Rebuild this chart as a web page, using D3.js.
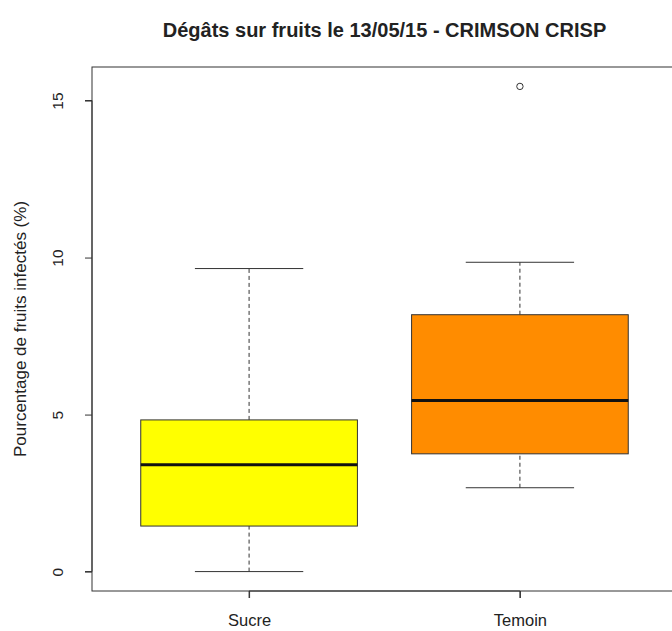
<!DOCTYPE html>
<html>
<head>
<meta charset="utf-8">
<script src="https://cdn.jsdelivr.net/npm/d3@7"></script>
<style>
  body { margin: 0; background: #fff; }
  text { font-family: "Liberation Sans", Arial, sans-serif; fill: #222; }
</style>
</head>
<body>
<svg id="chart" width="672" height="631"></svg>
<script>
// Box statistics
const categories = ['Sucre', 'Temoin'];
const lowerWhisker = [0, 2.67];
const q1 = [1.45, 3.75];
const median = [3.4, 5.45];
const q3 = [4.83, 8.18];
const upperWhisker = [9.65, 9.85];
const outliers = [[], [15.45]];
const fills = ['#ffff00', '#ff8c00'];
const yTicks = [0, 5, 10, 15];

const title = 'Dégâts sur fruits le 13/05/15 - CRIMSON CRISP';
const yLabel = 'Pourcentage de fruits infectés (%)';

const margin = { top: 67, right: -5, bottom: 40, left: 92 };
const width = 672, height = 631;
const innerW = width - margin.left - margin.right;
const innerH = height - margin.top - margin.bottom;

const svg = d3.select('#chart');
const g = svg.append('g').attr('transform', `translate(${margin.left},${margin.top})`);

// R style axis ranges: 4% padding
const x = d3.scaleLinear().domain([0.42, 2.58]).range([0, innerW]);
const yMax = d3.max(outliers.flat().concat(upperWhisker));
const pad = yMax * 0.04;
const y = d3.scaleLinear().domain([-pad, yMax + pad]).range([innerH, 0]);

const boxW = 0.8;

const boxes = categories.map((c, i) => ({
  c, i: i + 1,
  lo: lowerWhisker[i], q1: q1[i], med: median[i], q3: q3[i], hi: upperWhisker[i],
  out: outliers[i], fill: fills[i]
}));

const bg = g.selectAll('g.box').data(boxes).join('g').attr('class', 'box');

// whiskers (dashed)
bg.append('line')
  .attr('x1', d => x(d.i)).attr('x2', d => x(d.i))
  .attr('y1', d => y(d.lo)).attr('y2', d => y(d.q1))
  .attr('stroke', '#333').attr('stroke-dasharray', '4,3');
bg.append('line')
  .attr('x1', d => x(d.i)).attr('x2', d => x(d.i))
  .attr('y1', d => y(d.q3)).attr('y2', d => y(d.hi))
  .attr('stroke', '#333').attr('stroke-dasharray', '4,3');

// staples
['lo', 'hi'].forEach(k => {
  bg.append('line')
    .attr('x1', d => x(d.i - boxW / 4)).attr('x2', d => x(d.i + boxW / 4))
    .attr('y1', d => y(d[k])).attr('y2', d => y(d[k]))
    .attr('stroke', '#333');
});

// boxes
bg.append('rect')
  .attr('x', d => x(d.i - boxW / 2))
  .attr('width', d => x(d.i + boxW / 2) - x(d.i - boxW / 2))
  .attr('y', d => y(d.q3))
  .attr('height', d => y(d.q1) - y(d.q3))
  .attr('fill', d => d.fill)
  .attr('stroke', '#333');

// medians
bg.append('line')
  .attr('x1', d => x(d.i - boxW / 2)).attr('x2', d => x(d.i + boxW / 2))
  .attr('y1', d => y(d.med)).attr('y2', d => y(d.med))
  .attr('stroke', '#111').attr('stroke-width', 3);

// outliers
bg.selectAll('circle')
  .data(d => d.out.map(v => ({ i: d.i, v })))
  .join('circle')
  .attr('cx', d => x(d.i)).attr('cy', d => y(d.v))
  .attr('r', 3.2).attr('fill', 'none').attr('stroke', '#333');

// frame
g.append('rect')
  .attr('width', innerW).attr('height', innerH)
  .attr('fill', 'none').attr('stroke', '#333');

// y axis
const yAxis = g.append('g').call(d3.axisLeft(y).tickValues(yTicks).tickSize(7).tickPadding(0));
yAxis.select('.domain').attr('d', `M-7,${y(0)}H0V${y(15)}H-7`).attr('stroke', '#333');
yAxis.selectAll('.tick line').attr('stroke', '#333');
yAxis.selectAll('.tick text')
  .attr('x', 0).attr('dy', 0)
  .attr('transform', 'translate(-29,0) rotate(-90)')
  .attr('text-anchor', 'middle')
  .style('font-size', '15.5px');

// x axis
const xAxis = g.append('g').attr('transform', `translate(0,${innerH})`)
  .call(d3.axisBottom(x).tickValues([1, 2]).tickFormat(d => categories[d - 1]).tickSize(7).tickPadding(16));
xAxis.select('.domain').attr('d', `M${x(1)},7V0H${x(2)}V7`).attr('stroke', '#333');
xAxis.selectAll('.tick line').attr('stroke', '#333');
xAxis.selectAll('.tick text').style('font-size', '16.5px');

// title
svg.append('text')
  .attr('x', margin.left + innerW / 2).attr('y', 37)
  .attr('text-anchor', 'middle')
  .style('font-size', '20px').style('font-weight', 'bold')
  .text(title);

// y label
svg.append('text')
  .attr('transform', `translate(26,${margin.top + innerH / 2}) rotate(-90)`)
  .attr('text-anchor', 'middle')
  .style('font-size', '17px')
  .text(yLabel);
</script>
</body>
</html>
